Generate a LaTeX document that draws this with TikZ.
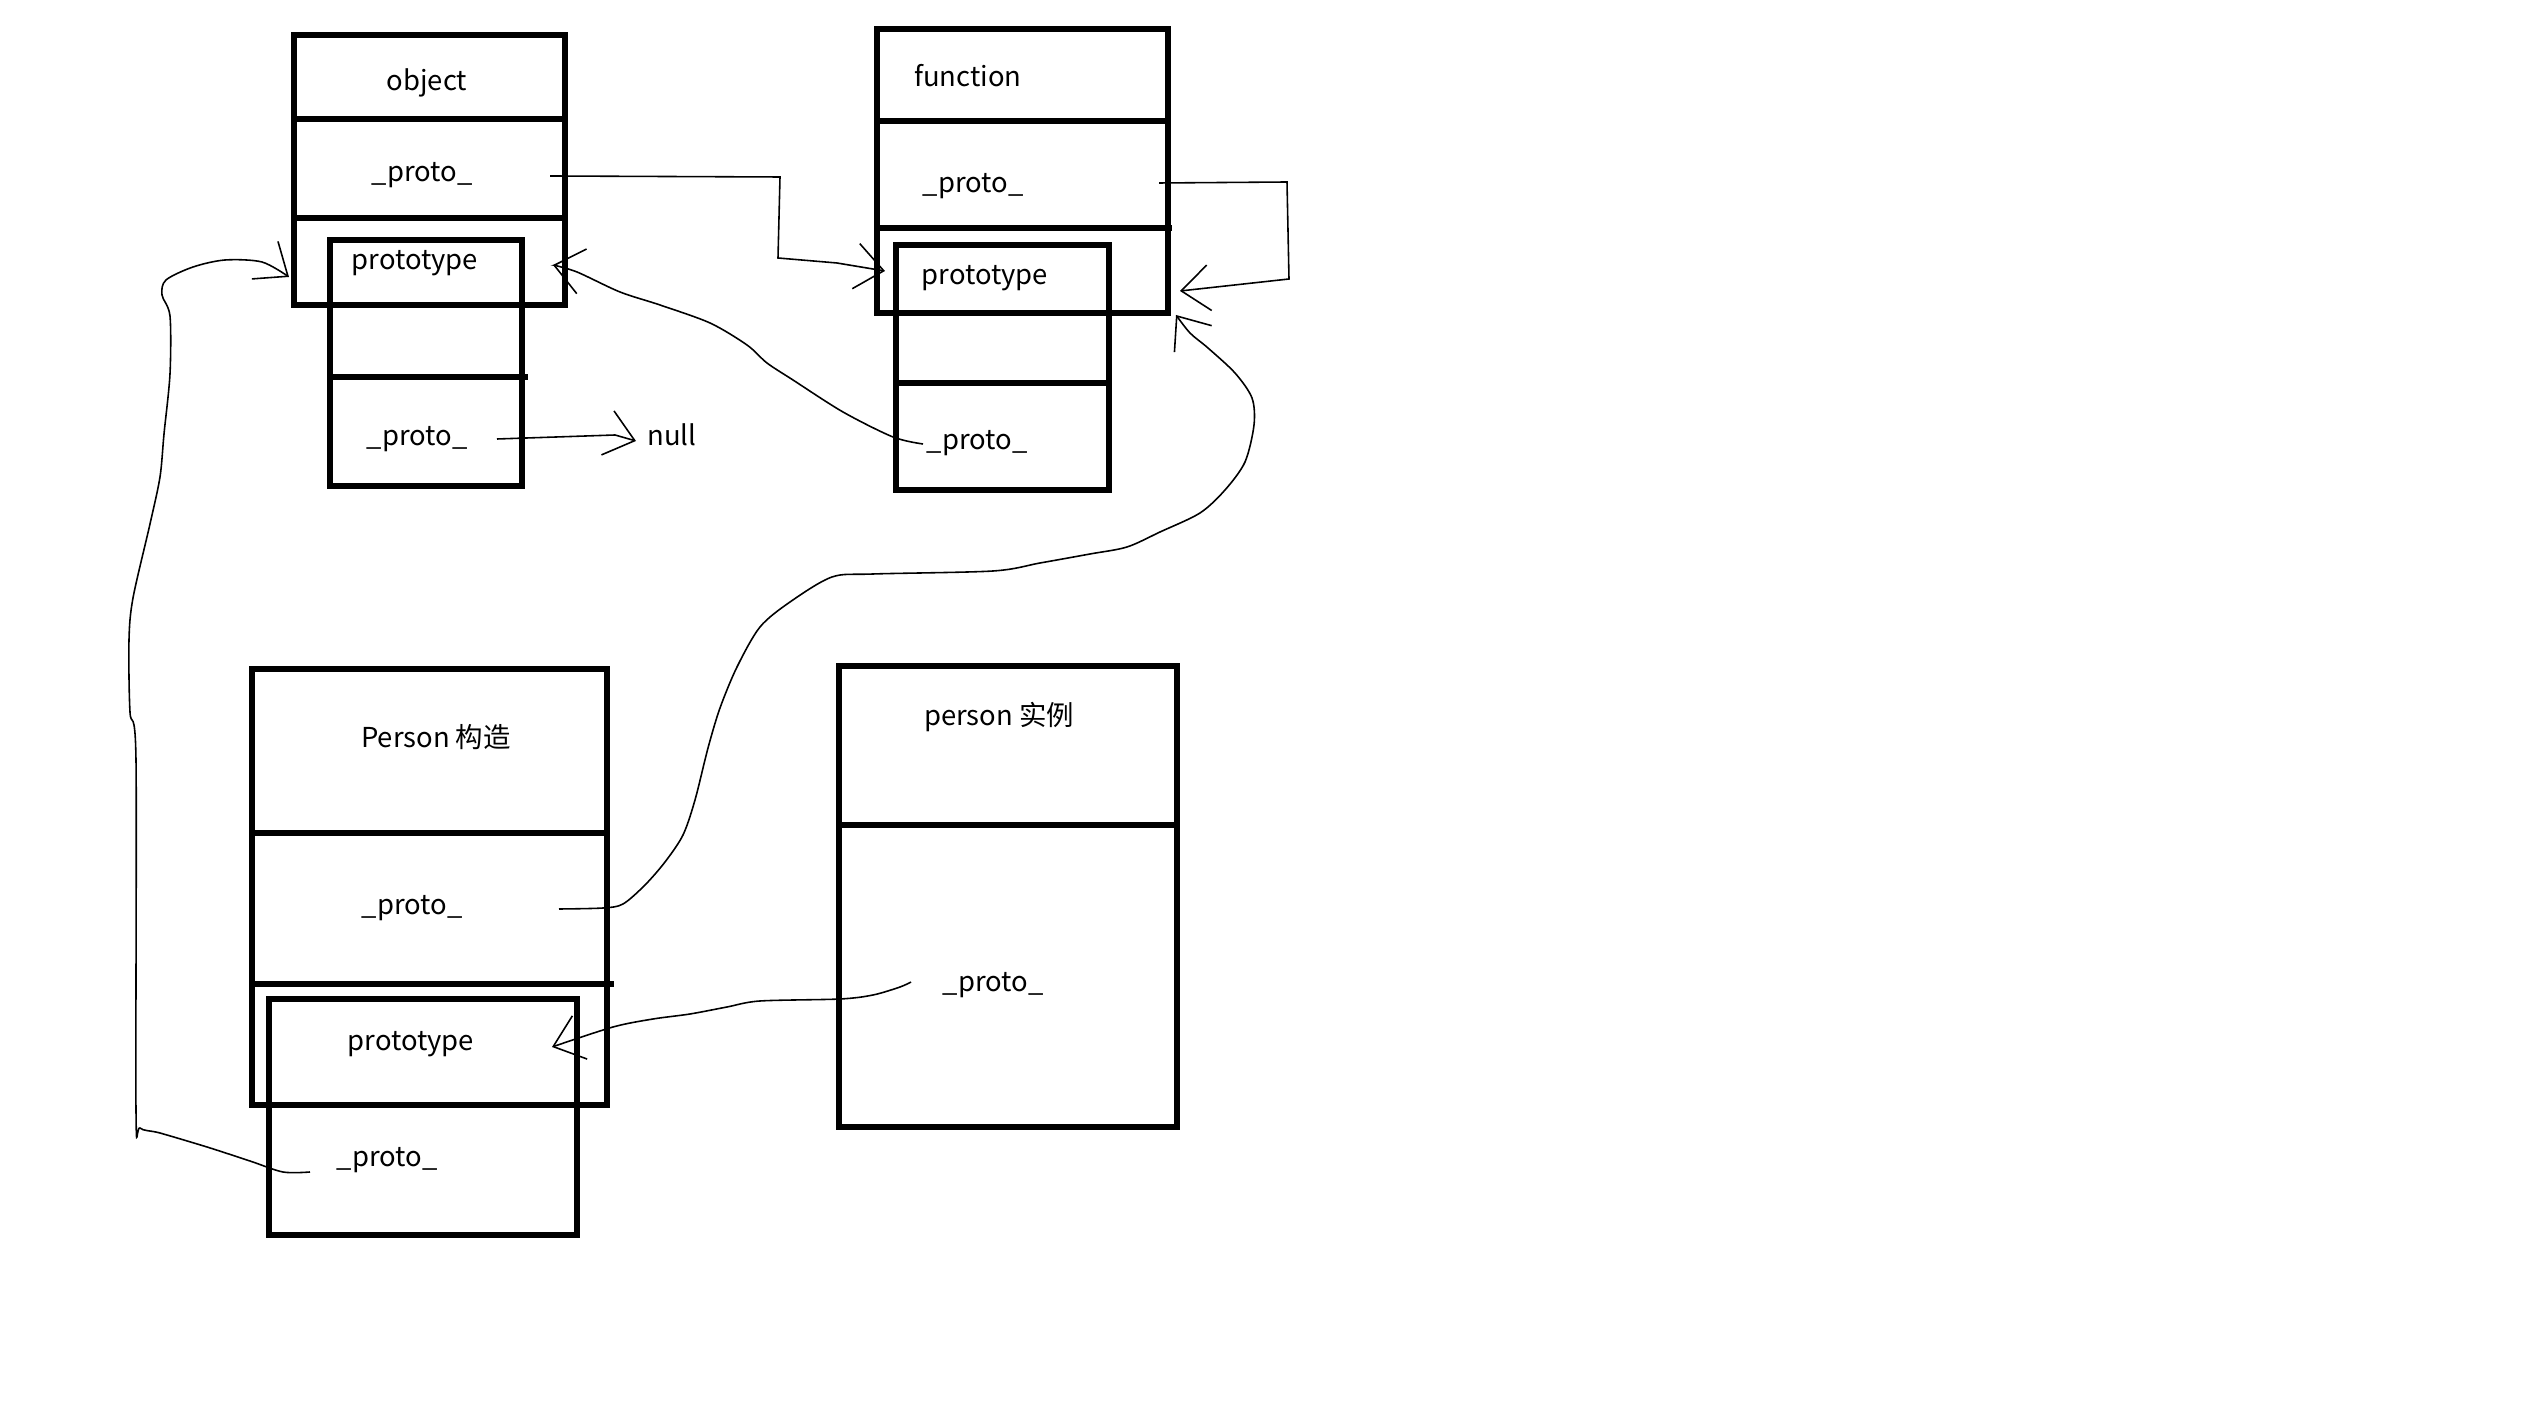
\documentclass[tikz,border=0pt]{standalone}
\usepackage{fontspec}
\setmainfont{Noto Sans CJK SC}
\usepackage{tikz}
\usetikzlibrary{arrows.meta}

\begin{document}
\begin{tikzpicture}[x=0.01cm, y=-0.01cm,
  frame/.style={draw=black, line width=1.5pt},
  link/.style={draw=black, line width=0.45pt, -{Straight Barb[length=8pt, width=13pt]}},
  lbl/.style={font=\fontsize{7.8pt}{9pt}\selectfont, anchor=base, inner sep=2pt}
]
  \path[use as bounding box, fill=white] (0,0) rectangle (2532,1416);

  % object
  \draw[frame] (294,35) rectangle (565,305);
  \draw[frame] (294,119) -- (568,119);
  \draw[frame] (294,218) -- (568,218);
  \draw[frame] (330,240) rectangle (522,486);
  \draw[frame] (330,377) -- (528,377);

  % function
  \draw[frame] (877,29) rectangle (1168,313);
  \draw[frame] (877,121) -- (1168,121);
  \draw[frame] (877,228) -- (1172,228);
  \draw[frame] (896,245) rectangle (1109,490);
  \draw[frame] (896,383) -- (1109,383);

  % Person
  \draw[frame] (252,669) rectangle (607,1105);
  \draw[frame] (252,833) -- (607,833);
  \draw[frame] (252,984) -- (614,984);
  \draw[frame] (269,999) rectangle (577,1235);

  % person
  \draw[frame] (839,666) rectangle (1177,1127);
  \draw[frame] (839,825) -- (1177,825);

  \node[lbl] (objname)   at (427,91)   {object};
  \node[lbl] (objproto)  at (422,182)  {\_proto\_};
  \node[lbl] (objptype)  at (415,270)  {prototype};
  \node[lbl] (objpproto) at (417,446)  {\_proto\_};
  \node[lbl] (nulltxt)   at (672,446)  {null};

  \node[lbl] (fnname)    at (968,87)   {function};
  \node[lbl] (fnproto)   at (973,193)  {\_proto\_};
  \node[lbl] (fnptype)   at (985,285)  {prototype};
  \node[lbl] (fnpproto)  at (977,450)  {\_proto\_};

  \node[lbl] (pcname)    at (436,748)  {Person 构造};
  \node[lbl] (pcproto)   at (412,915)  {\_proto\_};
  \node[lbl] (pcptype)   at (411,1051) {prototype};
  \node[lbl] (pcpproto)  at (387,1167) {\_proto\_};

  \node[lbl] (piname)    at (999,726)  {person 实例};
  \node[lbl] (piproto)   at (993,992)  {\_proto\_};

  % ends of the links
  \coordinate (objout)  at (550,176);
  \coordinate (objpout) at (497,439);
  \coordinate (fnout)   at (1159,183);
  \coordinate (fnpout)  at (923,444);
  \coordinate (pcout)   at (559,909);
  \coordinate (pcpout)  at (310,1172);
  \coordinate (piout)   at (911,982);
  \coordinate (objinL)  at (289,277);
  \coordinate (objinR)  at (553,265);
  \coordinate (fnin)    at (885,271);
  \coordinate (fninR)   at (1180,291);
  \coordinate (fninB)   at (1176,315);
  \coordinate (pcin)    at (552,1047);
  \coordinate (nullin)  at (636,441);

  \draw[link] (objout) -- (780,177) -- (778,258) -- (837,263) -- (fnin);
  \draw[link] (objpout) -- (615,435) -- (nullin);
  \draw[link] (fnout) -- (1287,182) -- (1289,279) -- (fninR);
  \draw[link] plot[smooth] coordinates {(fnpout) (893,437) (843,412) (793,380)
    (767,363) (747,345) (710,323) (660,305) (620,292) (577,272) (objinR)};
  \draw[link] plot[smooth] coordinates {(pcout) (603,908) (623,904) (645,885)
    (665,862) (683,835) (695,800) (708,748) (720,708) (737,667) (760,627)
    (790,602) (832,577) (873,574) (993,571) (1040,563) (1090,554) (1127,547)
    (1160,532) (1200,513) (1225,490) (1245,462) (1254,425) (1252,398)
    (1235,373) (1208,348) (1190,333) (fninB)};
  \draw[link] plot[smooth] coordinates {(piout) (900,987) (873,995) (840,999)
    (760,1001) (727,1007) (690,1014) (653,1019) (613,1027) (pcin)};
  \draw[link] plot[smooth] coordinates {(pcpout) (283,1172) (250,1161)
    (207,1147) (160,1133) (140,1128) (136,1110) (136,760) (130,712) (129,640)
    (133,598) (150,524) (160,477) (164,434) (170,374) (170,316) (162,295)
    (166,280) (193,267) (225,260) (262,262) (objinL)};
\end{tikzpicture}
\end{document}
